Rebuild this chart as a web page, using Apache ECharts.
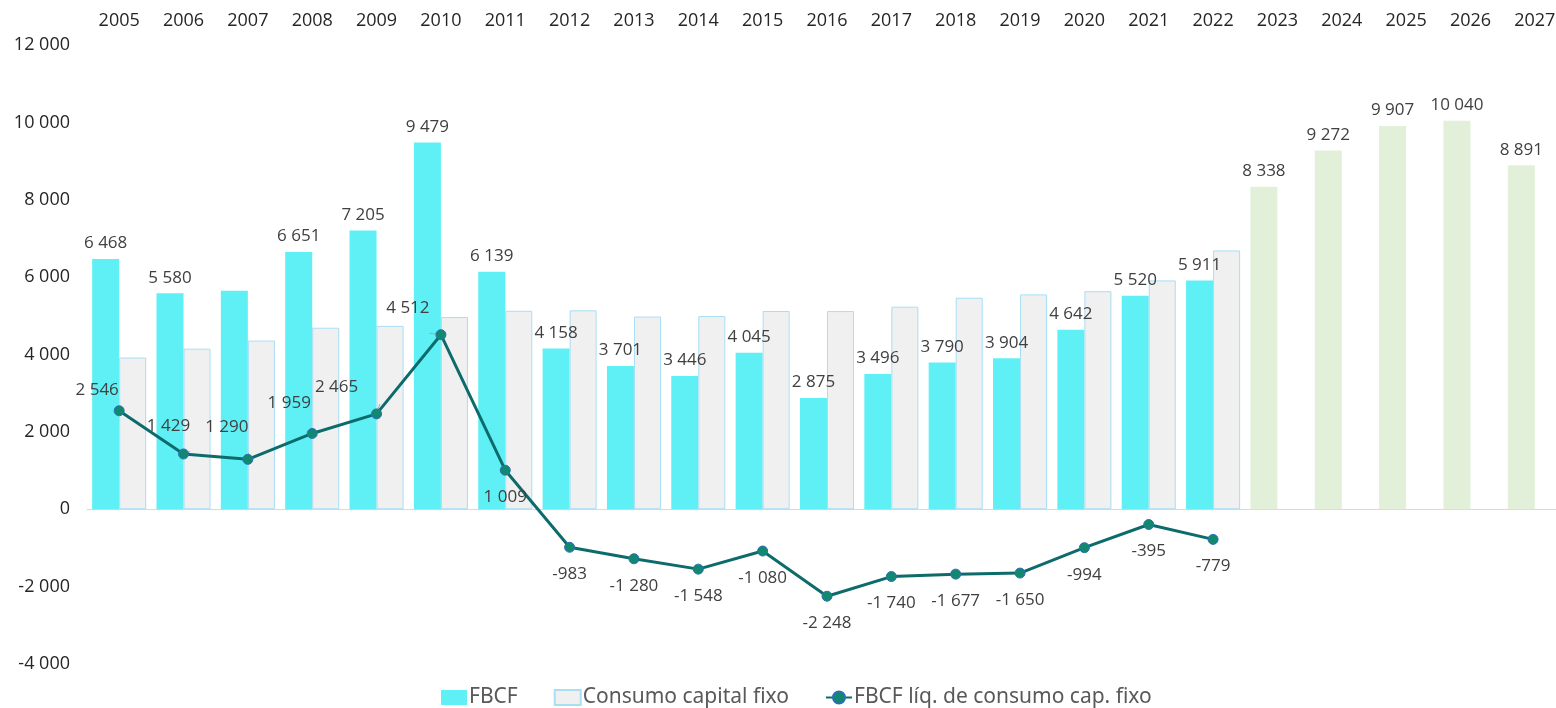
<!DOCTYPE html>
<html>
<head>
<meta charset="utf-8">
<script src="https://cdn.jsdelivr.net/npm/echarts@6/dist/echarts.min.js"></script>
<style>
    html, body { margin: 0; padding: 0; background: #fff; }
    #chart { width: 1556px; height: 708px; }
</style>
</head>
<body>
<div id="chart"></div>
<script>

var years = ['2005', '2006', '2007', '2008', '2009', '2010', '2011', '2012', '2013', '2014', '2015', '2016',
    '2017', '2018', '2019', '2020', '2021', '2022', '2023', '2024', '2025', '2026', '2027'];

var fbcf = [6468, 5580, 5650, 6651, 7205, 9479, 6139, 4158, 3701, 3446, 4045, 2875,
    3496, 3790, 3904, 4642, 5520, 5911, 8338, 9272, 9907, 10040, 8891];

var consumo = [3922, 4151, 4360, 4692, 4740, 4967, 5130, 5141, 4981, 4994, 5125, 5123,
    5236, 5467, 5554, 5636, 5915, 6690, null, null, null, null, null];

var liquida = [2546, 1429, 1290, 1959, 2465, 4512, 1009, -983, -1280, -1548, -1080, -2248,
    -1740, -1677, -1650, -994, -395, -779, null, null, null, null, null];

// first projected year (green bars)
var proj_start = 18;
// FBCF label hidden for these years
var no_label = ['2007'];

// label offsets for the line (positive points sit up-left of the marker)
var liq_offsets = [[-22, -2], [-15, -9], [-21, -13], [-23, -11], [-40, -8], [-33, -8]];
// these labels get a small leader line
var leader = ['2006', '2007', '2008', '2009', '2010'];

var font = 'Open Sans';
var txt = '#404040';

function fmt(v) {
    var s = Math.abs(v).toString().replace(/\B(?=(\d{3})+(?!\d))/g, ' ');
    return (v < 0 ? '-' : '') + s;
}

var fbcf_data = [];
for (let x = 0; x < years.length; x++) {
    let item = { value: fbcf[x] };
    if (x >= proj_start) {
        item.itemStyle = { color: '#e2f0d9' };
    }
    if (no_label.indexOf(years[x]) >= 0) {
        item.label = { show: false };
    }
    fbcf_data.push(item);
}

var liq_data = [];
for (let x = 0; x < years.length; x++) {
    let item = { value: liquida[x] };
    if (liquida[x] !== null && liquida[x] > 0 && x < liq_offsets.length) {
        item.label = { position: 'top', offset: liq_offsets[x] };
    } else {
        item.label = { position: 'bottom', offset: [0, 8] };
    }
    if (leader.indexOf(years[x]) >= 0) {
        item.labelLine = { show: true, lineStyle: { color: '#a6a6a6', width: 1 } };
    }
    liq_data.push(item);
}

var myChart = echarts.init(document.getElementById('chart'));

var option = {
    animation: false,
    textStyle: { fontFamily: font },
    grid: { left: 87, width: 1480, top: 45, bottom: 44, outerBoundsMode: 'none', containLabel: false },
    legend: {
        bottom: -5,
        left: 436,
        itemGap: 36,
        itemWidth: 26,
        itemHeight: 15,
        textStyle: { color: '#595959', fontSize: 21, fontFamily: 'Noto Sans', padding: [0, 0, 0, -3] },
        data: [
            { name: 'FBCF', icon: 'rect' },
            { name: 'Consumo capital fixo', icon: 'rect' },
            { name: 'FBCF líq. de consumo cap. fixo' }
        ]
    },
    xAxis: [
        {
            type: 'category',
            data: years,
            position: 'top',
            axisLine: { show: false, onZero: false },
            axisTick: { show: false },
            axisLabel: { color: '#262626', fontSize: 18, margin: 15 }
        },
        {
            type: 'category',
            data: years,
            axisLine: { onZero: true, lineStyle: { color: '#d9d9d9', width: 1 } },
            axisTick: { show: false },
            axisLabel: { show: false }
        }
    ],
    yAxis: {
        type: 'value',
        min: -4000,
        max: 12000,
        interval: 2000,
        axisLabel: {
            color: '#262626',
            fontSize: 18,
            margin: 17,
            formatter: function (v) { return fmt(v); }
        },
        axisLine: { show: false },
        axisTick: { show: false },
        splitLine: { show: false }
    },
    series: [
        {
            name: 'FBCF',
            type: 'bar',
            barGap: '0%',
            barCategoryGap: '16%',
            itemStyle: { color: '#5ff0f5' },
            label: {
                show: true,
                position: 'top',
                distance: 7,
                color: txt,
                fontSize: 17,
                formatter: function (p) { return fmt(p.value); }
            },
            data: fbcf_data
        },
        {
            name: 'Consumo capital fixo',
            type: 'bar',
            barGap: '0%',
            barCategoryGap: '16%',
            itemStyle: { color: '#f0f0f0', borderColor: '#a9def5', borderWidth: 1 },
            data: consumo
        },
        {
            name: 'FBCF líq. de consumo cap. fixo',
            type: 'line',
            symbol: 'circle',
            symbolSize: 10,
            lineStyle: { color: '#0e6b6b', width: 3 },
            itemStyle: { color: '#12896f', borderColor: '#2a6fb5', borderWidth: 1 },
            label: {
                show: true,
                color: txt,
                fontSize: 17,
                formatter: function (p) { return fmt(p.value); }
            },
            data: liq_data,
            z: 5
        }
    ]
};

myChart.setOption(option);

</script>
</body>
</html>
